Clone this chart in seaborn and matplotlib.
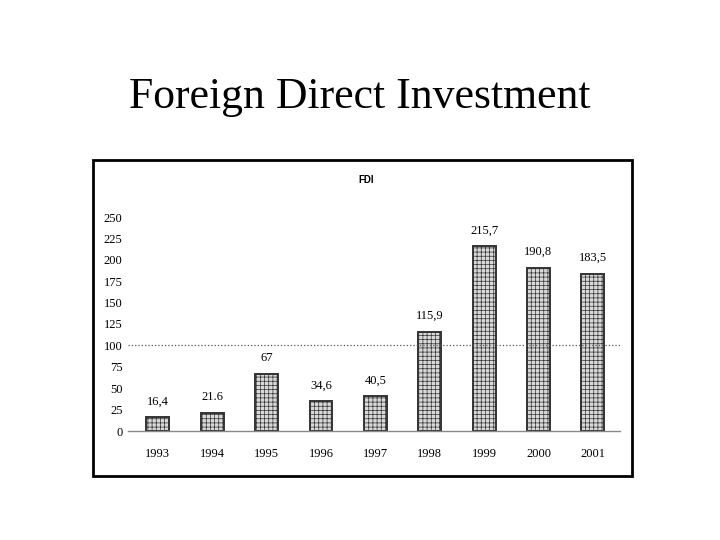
import matplotlib.pyplot as plt
import matplotlib.patches as mpatches
import seaborn as sns
import pandas as pd

years = ["1993", "1994", "1995", "1996", "1997", "1998", "1999", "2000", "2001"]
fdi = [16.4, 21.6, 67, 34.6, 40.5, 115.9, 215.7, 190.8, 183.5]
value_labels = ["16,4", "21.6", "67", "34,6", "40,5", "115,9", "215,7", "190,8", "183,5"]
y_ticks = [0, 25, 50, 75, 100, 125, 150, 175, 200, 225, 250]

df = pd.DataFrame({"year": years, "fdi": fdi})

sns.set_style("white")
plt.rcParams["font.family"] = ["Liberation Serif", "DejaVu Serif"]
plt.rcParams["text.color"] = "black"
plt.rcParams["xtick.color"] = "black"
plt.rcParams["ytick.color"] = "black"
plt.rcParams["hatch.linewidth"] = 0.5

fig = plt.figure(figsize=(7.2, 5.4), dpi=100)
fig.patch.set_facecolor("white")

# slide title
fig.text(0.5, 0.82, "Foreign Direct Investment", ha="center", va="center",
         fontsize=31.5, color="black")

# chart frame
frame = mpatches.Rectangle((93 / 720, 1 - 476 / 540), 539 / 720, 316 / 540,
                           transform=fig.transFigure, fill=False,
                           edgecolor="black", linewidth=2)
fig.patches.append(frame)
fig.text(366 / 720, 1 - 180 / 540, "FDI", ha="center", va="center",
         fontsize=7, fontweight="bold", family="Liberation Sans", color="black")

ax = fig.add_axes([128 / 720, 1 - 431 / 540, 492 / 720, 214 / 540])
sns.barplot(data=df, x="year", y="fdi", ax=ax, width=0.42,
            color="#d9d9d9", edgecolor="black", linewidth=1.4, saturation=1)
for p in ax.patches:
    p.set_hatch("++++")
    p.set_edgecolor("#333333")

ax.bar_label(ax.containers[0], labels=value_labels, padding=7, fontsize=9, color="black")

ax.axhline(100, color="#555555", linestyle=":", linewidth=0.9)

ax.set_ylim(0, 250)
ax.set_xlim(-0.55, 8.5)
ax.set_yticks(y_ticks)
ax.set_xlabel("")
ax.set_ylabel("")
ax.set_facecolor("none")
for s in ["left", "right", "top"]:
    ax.spines[s].set_visible(False)
ax.spines["bottom"].set_color("#888888")
ax.spines["bottom"].set_linewidth(1)
ax.set_xticks([i + 0.5 for i in range(8)], minor=True)
ax.tick_params(axis="x", which="major", length=0, pad=12, labelsize=9)
ax.tick_params(axis="x", which="minor", length=4, color="#888888", direction="out")
ax.tick_params(axis="y", length=0, pad=4, labelsize=9)

fig.savefig("out.png", dpi=100)
